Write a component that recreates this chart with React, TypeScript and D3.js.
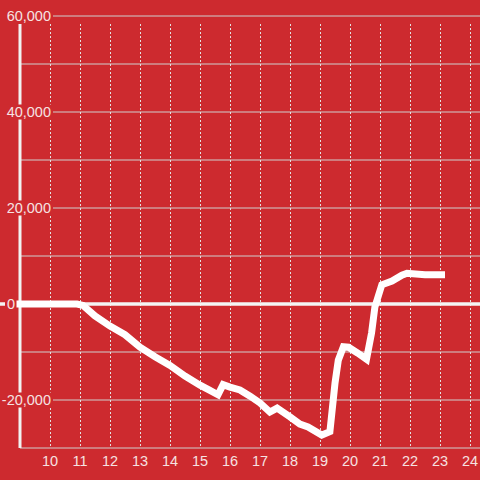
import React from "react";
import * as d3 from "d3";

const xValues = [9, 10, 10.9, 11.1, 11.5, 12, 12.5, 13, 13.5, 14, 14.5, 15, 15.3, 15.6, 15.77, 16, 16.33, 16.67, 17, 17.33, 17.57, 18, 18.33, 18.6, 19.06, 19.33, 19.5, 19.61, 19.78, 19.95, 20.25, 20.55, 20.72, 20.83, 21.06, 21.4, 21.73, 21.9, 22.5, 23.05];
const yValues = [0, 0, 0, -300, -2500, -4600, -6400, -9000, -11000, -12800, -15000, -16900, -17900, -18900, -16800, -17300, -17900, -19200, -20600, -22500, -21700, -23500, -25000, -25600, -27300, -26600, -16500, -11700, -8900, -9000, -10200, -11500, -6000, -600, 4000, 4800, 6000, 6400, 6100, 6100];
const yGridTicks = [-30000, -20000, -10000, 0, 10000, 20000, 30000, 40000, 50000, 60000];
const yLabelTicks = [-20000, 0, 20000, 40000, 60000];
const xTicks = [10, 11, 12, 13, 14, 15, 16, 17, 18, 19, 20, 21, 22, 23, 24];

const W = 480;
const H = 480;
const BG = "#cd2a2f";
const TXT = "#f6e2e2";

export default function App() {
  const x = d3.scaleLinear().domain([9, 24 + 1 / 3]).range([20, 480]);
  const y = d3.scaleLinear().domain([-30000, 60000]).range([448, 16]);
  const fmt = (v: number) => d3.format(",")(v).replace("\u2212", "-");
  const line = d3
    .line<number>()
    .x((_, i) => x(xValues[i]))
    .y((d) => y(d));
  const axisTop = 24;
  const axisBottom = y(-30000);

  return (
    <svg
      width={W}
      height={H}
      style={{ position: "fixed", left: 0, top: 0 }}
      fontFamily="'Liberation Sans', Arial, sans-serif"
    >
      <rect x={0} y={0} width={W} height={H} fill={BG} />
      {yGridTicks.map((t) => (
        <line key={"g" + t} x1={x(9)} x2={W} y1={y(t)} y2={y(t)} stroke="#cfcfcf" strokeWidth={1} />
      ))}
      {xTicks.map((t) => (
        <line
          key={"v" + t}
          x1={Math.round(x(t)) + 0.5}
          x2={Math.round(x(t)) + 0.5}
          y1={axisTop}
          y2={axisBottom}
          stroke="#e2e2e2"
          strokeWidth={1}
          strokeDasharray="2,2"
        />
      ))}
      <line x1={x(9)} x2={x(9)} y1={axisTop} y2={axisBottom} stroke="#f2f2f2" strokeWidth={3} />
      <line x1={0} x2={W} y1={y(0)} y2={y(0)} stroke="#f4f4f4" strokeWidth={3.5} />
      {yLabelTicks.map((t) => {
        const ax = t === 0 ? 15 : 51;
        const w = t === 0 ? 8 : t < 0 ? 50 : 46;
        return (
          <g key={"l" + t}>
            <rect x={ax - w - 2} y={y(t) - 7.5} width={w + 4} height={15} fill={BG} />
            <text
              x={ax}
              y={y(t) + 5}
              textAnchor="end"
              fontSize={14.5}
              fill={TXT}
            >
              {fmt(t)}
            </text>
          </g>
        );
      })}
      {xTicks.map((t) => (
        <text key={"xl" + t} x={x(t)} y={466} textAnchor="middle" fontSize={14.5} fill={TXT}>
          {t}
        </text>
      ))}
      <path
        d={line(yValues) || ""}
        fill="none"
        stroke="#ffffff"
        strokeWidth={7}
        strokeLinecap="square"
        strokeLinejoin="miter"
      />
    </svg>
  );
}
